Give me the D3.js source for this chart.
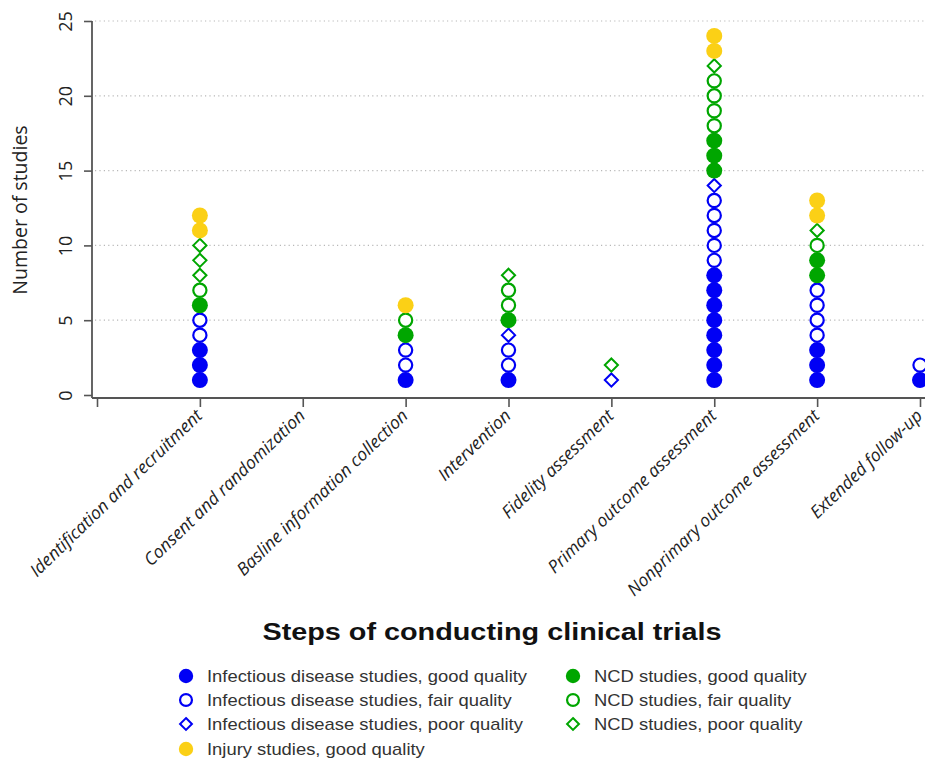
<!DOCTYPE html>
<html>
<head>
<meta charset="utf-8">
<script src="https://cdn.jsdelivr.net/npm/d3@7"></script>
<style>
  html, body { margin: 0; padding: 0; background: #fff; }
  svg { display: block; }
</style>
</head>
<body>
<div id="chart"></div>
<script>
// ---- Data ----
const categories = [
  "Identification and recruitment",
  "Consent and randomization",
  "Basline information collection",
  "Intervention",
  "Fidelity assessment",
  "Primary outcome assessment",
  "Nonprimary outcome assessment",
  "Extended follow-up"
];
const infGood = [3, 0, 1, 1, 0, 8, 3, 1];
const infFair = [2, 0, 2, 2, 0, 5, 4, 1];
const infPoor = [0, 0, 0, 1, 1, 1, 0, 0];
const ncdGood = [1, 0, 1, 1, 0, 3, 2, 0];
const ncdFair = [1, 0, 1, 2, 0, 4, 1, 0];
const ncdPoor = [3, 0, 0, 1, 1, 1, 1, 0];
const injGood = [2, 0, 1, 0, 0, 2, 2, 0];
const yTicks = [0, 5, 10, 15, 20, 25];

const BLUE = "#0000f5", GREEN = "#00a600", YELLOW = "#fbd016";
const seriesDefs = [
  { name: "Infectious disease studies, good quality", values: infGood, color: BLUE, shape: "filled" },
  { name: "Infectious disease studies, fair quality", values: infFair, color: BLUE, shape: "hollow" },
  { name: "Infectious disease studies, poor quality", values: infPoor, color: BLUE, shape: "diamond" },
  { name: "NCD studies, good quality", values: ncdGood, color: GREEN, shape: "filled" },
  { name: "NCD studies, fair quality", values: ncdFair, color: GREEN, shape: "hollow" },
  { name: "NCD studies, poor quality", values: ncdPoor, color: GREEN, shape: "diamond" },
  { name: "Injury studies, good quality", values: injGood, color: YELLOW, shape: "filled" }
];

// ---- Layout ----
const W = 925, H = 765;
const svg = d3.select("#chart").append("svg").attr("width", W).attr("height", H);

const x = d3.scaleLinear().domain([0, categories.length]).range([97, 920]);
const y = d3.scaleLinear().domain([0, 25]).range([395, 21]);

// gridlines
svg.append("g").selectAll("line").data(yTicks.filter(d => d > 0)).join("line")
  .attr("x1", 95).attr("x2", W).attr("y1", d => y(d)).attr("y2", d => y(d))
  .attr("stroke", "#b8b8b8").attr("stroke-width", 1.2).attr("stroke-dasharray", "1.2,3.2");

// y axis
const yAxis = svg.append("g").attr("transform", "translate(92,0)")
  .call(d3.axisLeft(y).tickValues(yTicks).tickSize(8).tickSizeOuter(0));
yAxis.select(".domain").attr("stroke", "#555").attr("stroke-width", 1.8)
  .attr("d", `M0,${y(25)}V${398}`);
yAxis.selectAll(".tick line").attr("stroke", "#555").attr("stroke-width", 1.6);
yAxis.selectAll(".tick text")
  .attr("x", null).attr("dy", null)
  .attr("transform", "translate(-20,0) rotate(-90)")
  .attr("text-anchor", "middle")
  .attr("dy", "0em")
  .style("font-family", "'Open Sans', sans-serif").style("font-size", "18px").attr("fill", "#222");

svg.append("text")
  .attr("transform", `translate(27,${y(12.5) + 2}) rotate(-90)`)
  .attr("text-anchor", "middle")
  .style("font-family", "'Open Sans', sans-serif").style("font-size", "19.5px").attr("fill", "#222")
  .text("Number of studies");

// x axis
const xAxis = svg.append("g").attr("transform", "translate(0,398)")
  .call(d3.axisBottom(x).tickValues(d3.range(0, categories.length + 1))
    .tickSize(9).tickSizeOuter(0).tickFormat(i => i === 0 ? "" : categories[i - 1]));
xAxis.select(".domain").attr("stroke", "#555").attr("stroke-width", 1.8)
  .attr("d", `M92,0H${W}`);
xAxis.selectAll(".tick line").attr("stroke", "#555").attr("stroke-width", 1.6);
xAxis.selectAll(".tick text")
  .attr("y", null).attr("dy", null)
  .attr("text-anchor", "end")
  .attr("transform", "translate(3,19) rotate(-44)")
  .style("font-family", "'Open Sans', sans-serif").style("font-style", "italic")
  .style("font-size", "17.5px").attr("fill", "#222");

// x title
svg.append("text")
  .attr("transform", "translate(492,640) scale(1.2,1)")
  .attr("text-anchor", "middle")
  .style("font-family", "'Liberation Sans', Arial, sans-serif").style("font-weight", "bold")
  .style("font-size", "24px").attr("fill", "#111")
  .text("Steps of conducting clinical trials");

// ---- points ----
const points = [];
categories.forEach((c, ci) => {
  let level = 0;
  seriesDefs.forEach(s => {
    for (let k = 0; k < s.values[ci]; k++) {
      level += 1;
      points.push({ ci: ci + 1, level, s });
    }
  });
});

function drawMarker(g, shape, color, cx, cy, scale) {
  const k = scale || 1;
  if (shape === "filled") {
    g.append("circle").attr("cx", cx).attr("cy", cy).attr("r", 8 * k).attr("fill", color);
  } else if (shape === "hollow") {
    g.append("circle").attr("cx", cx).attr("cy", cy).attr("r", 6.6 * k)
      .attr("fill", "#fff").attr("stroke", color).attr("stroke-width", 2.2);
  } else {
    const r = 6.6 * k;
    g.append("path").attr("d", `M${cx},${cy - r}L${cx + r},${cy}L${cx},${cy + r}L${cx - r},${cy}Z`)
      .attr("fill", "#fff").attr("stroke", color).attr("stroke-width", 2);
  }
}

const pg = svg.append("g");
points.forEach(p => drawMarker(pg, p.s.shape, p.s.color, x(p.ci), y(p.level)));

// ---- legend ----
const legendPos = [
  [186, 676], [186, 700], [186, 724], [573, 676], [573, 700], [573, 724], [186, 749]
];
const lg = svg.append("g");
seriesDefs.forEach((s, i) => {
  const [lx, ly] = legendPos[i];
  drawMarker(lg, s.shape, s.color, lx, ly, 0.9);
  lg.append("text")
    .attr("transform", `translate(${lx + 21},${ly + 6}) scale(1.15,1)`)
    .style("font-family", "'Liberation Sans', Arial, sans-serif").style("font-size", "16px")
    .attr("fill", "#333").text(s.name);
});
</script>
</body>
</html>
